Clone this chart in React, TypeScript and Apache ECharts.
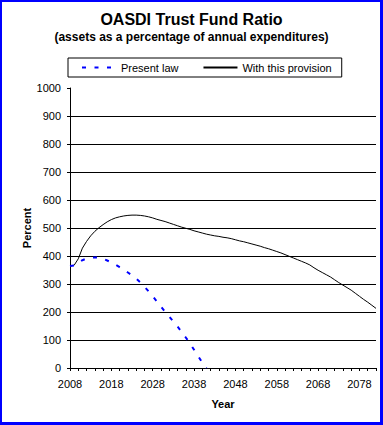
import React, { useEffect, useRef } from "react";
import * as echarts from "echarts";

const FONT = "'Liberation Sans', Arial, sans-serif";

const titleText = "OASDI Trust Fund Ratio";
const subtitleText = "(assets as a percentage of annual expenditures)";
const seriesNames = ["Present law", "With this provision"];
const xAxisName = "Year";
const yAxisName = "Percent";

const startYear = 2008;
const endYear = 2082;
const years: string[] = [];
for (let y = startYear; y <= endYear; y++) years.push(String(y));

// Present law, 2008 - 2041
const presentLaw = [
  364, 366, 376, 385, 391, 394, 395, 394, 390, 384,
  377, 369, 360, 351, 341, 331, 319, 306, 290, 274,
  256, 238, 219, 201, 184, 166, 148, 129, 109, 88,
  65, 42, 19, 0,
];

// With this provision, 2008 - 2082
const withProvision = [
  364, 367, 390, 428, 452, 472, 488, 501, 512, 522,
  530, 536, 540, 543, 545, 546, 546, 545, 543, 540,
  536, 531, 527, 523, 518, 513, 508, 503, 499, 495,
  490, 486, 482, 478, 475, 472, 470, 467, 465, 462,
  458, 454, 451, 447, 443, 439, 435, 430, 426, 421,
  416, 411, 405, 399, 393, 387, 381, 375, 368, 358,
  349, 341, 333, 325, 315, 305, 296, 287, 278, 267,
  256, 245, 235, 224, 213,
];

export default function App() {
  const ref = useRef<HTMLDivElement>(null);

  useEffect(() => {
    if (!ref.current) return;
    const chart = echarts.init(ref.current, undefined, { renderer: "svg" });
    const gridColors = ["transparent"];
    for (let i = 0; i < 9; i++) gridColors.push("#000000");
    gridColors.push("transparent");

    chart.setOption({
      animation: false,
      backgroundColor: "#ffffff",
      textStyle: { fontFamily: FONT, color: "#000" },
      title: [
        {
          text: titleText,
          left: "center",
          top: 11,
          padding: 0,
          textStyle: { fontFamily: FONT, fontSize: 16, fontWeight: "bold", color: "#000" },
        },
        {
          text: subtitleText,
          left: "center",
          top: 31,
          padding: 0,
          textStyle: { fontFamily: FONT, fontSize: 12, fontWeight: "bold", color: "#000" },
        },
      ],
      legend: {
        data: seriesNames,
        left: 68,
        top: 58,
        orient: "horizontal",
        itemWidth: 34,
        itemHeight: 11,
        itemGap: 24,
        padding: [4, 10, 4, 13],
        borderColor: "#000",
        borderWidth: 1,
        borderRadius: 0,
        itemStyle: { opacity: 0 },
        lineStyle: { opacity: 1 },
        textStyle: { fontFamily: FONT, fontSize: 11, color: "#000" },
      },
      graphic: [
        {
          type: "text",
          x: 27,
          y: 228,
          rotation: Math.PI / 2,
          style: {
            text: yAxisName,
            align: "center",
            verticalAlign: "middle",
            fontFamily: FONT,
            fontSize: 11,
            fontWeight: "bold",
            fill: "#000",
          },
        },
      ],
      grid: { left: 70, right: 7, top: 88, bottom: 57, containLabel: false },
      xAxis: {
        type: "category",
        data: years,
        boundaryGap: false,
        name: xAxisName,
        nameLocation: "middle",
        nameGap: 30,
        nameTextStyle: { fontFamily: FONT, fontSize: 11, fontWeight: "bold", color: "#000" },
        axisLine: { lineStyle: { color: "#000", width: 1 } },
        axisTick: { show: true, interval: 1, length: 3, lineStyle: { color: "#000" } },
        axisLabel: {
          interval: 9,
          margin: 10,
          fontFamily: FONT,
          fontSize: 11,
          color: "#000",
        },
        splitLine: { show: false },
      },
      yAxis: {
        type: "value",
        min: 0,
        max: 1000,
        interval: 100,
        axisLine: { show: true, lineStyle: { color: "#000", width: 1 } },
        axisTick: { show: true, length: 3, lineStyle: { color: "#000" } },
        axisLabel: {
          margin: 9,
          fontFamily: FONT,
          fontSize: 11,
          color: "#000",
          formatter: (v: number) => String(v),
        },
        splitLine: { show: true, lineStyle: { color: gridColors, width: 1 } },
      },
      series: [
        {
          name: seriesNames[0],
          type: "line",
          data: presentLaw,
          symbol: "none",
          z: 3,
          color: "#0000FF",
          lineStyle: { color: "#0000FF", width: 2, type: [4, 8.5] },
        },
        {
          name: seriesNames[1],
          type: "line",
          data: withProvision,
          symbol: "none",
          z: 2,
          color: "#000000",
          lineStyle: { color: "#000000", width: 1, type: "solid" },
        },
      ],
    });
    return () => chart.dispose();
  }, []);

  return (
    <div style={{ position: "fixed", left: 0, top: 0, width: 383, height: 425, background: "#fff" }}>
      <div ref={ref} style={{ position: "absolute", left: 0, top: 0, width: 383, height: 425 }} />
      <div
        style={{
          position: "absolute",
          left: 0,
          top: 0,
          width: 383,
          height: 425,
          boxSizing: "border-box",
          borderLeft: "2px solid #0000FF",
          borderTop: "2px solid #0000FF",
          borderRight: "3px solid #0000FF",
          borderBottom: "3px solid #0000FF",
          pointerEvents: "none",
        }}
      />
    </div>
  );
}
